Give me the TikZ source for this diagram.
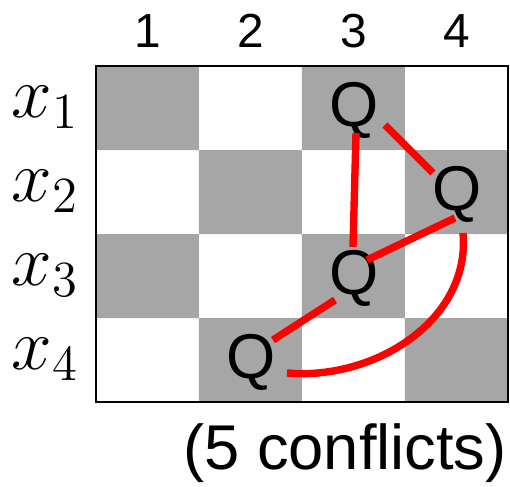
\documentclass[tikz,border=0pt]{standalone}
\usepackage{fontspec}
\newfontfamily\arialfont{Liberation Sans}
\definecolor{boardgray}{RGB}{166,166,166}
\tikzset{queen/.style={circle,inner sep=0pt,minimum size=.6cm,font=\arialfont\fontsize{18}{18}\selectfont},
  colnum/.style={anchor=base,font=\arialfont\fontsize{13.6}{14}\selectfont},
  var/.style={font=\fontsize{19.5}{21}\selectfont},
  conflict/.style={red,line width=2.1pt}}
\begin{document}
\begin{tikzpicture}
\useasboundingbox (0,0) rectangle (5.10,4.87);
% board
\fill[boardgray] (0.96,3.37) rectangle (1.99,4.21) (3.02,3.37) rectangle (4.05,4.21);
\fill[boardgray] (1.99,2.53) rectangle (3.02,3.37) (4.05,2.53) rectangle (5.08,3.37);
\fill[boardgray] (0.96,1.69) rectangle (1.99,2.53) (3.02,1.69) rectangle (4.05,2.53);
\fill[boardgray] (1.99,0.85) rectangle (3.02,1.69) (4.05,0.85) rectangle (5.08,1.69);
\draw[line width=.8pt] (0.96,0.85) rectangle (5.08,4.21);
% columns and variables
\node[colnum] (c1) at (1.475,4.40) {1}; \node[colnum] (c2) at (2.505,4.40) {2};
\node[colnum] (c3) at (3.535,4.40) {3}; \node[colnum] (c4) at (4.565,4.40) {4};
\node[var] (x1) at (0.45,3.80) {$x_1$}; \node[var] (x2) at (0.45,2.96) {$x_2$};
\node[var] (x3) at (0.45,2.12) {$x_3$}; \node[var] (x4) at (0.45,1.28) {$x_4$};
% queens
\node[queen] (q1) at (3.54,3.77) {Q}; \node[queen] (q2) at (4.57,2.93) {Q};
\node[queen] (q3) at (3.54,2.09) {Q}; \node[queen] (q4) at (2.51,1.25) {Q};
% conflicts
\draw[conflict] ([shift={(0.31,-0.15)}]q1.center) -- ([shift={(-0.24,0.21)}]q2.center);
\draw[conflict] ([shift={(0.02,-0.23)}]q1.center) -- ([shift={(-0.01,0.31)}]q3.center);
\draw[conflict] ([shift={(-0.02,-0.24)}]q2.center) -- ([shift={(0.13,0.18)}]q3.center);
\draw[conflict] ([shift={(-0.19,-0.22)}]q3.center) -- ([shift={(0.22,0.22)}]q4.center);
\draw[conflict] ([shift={(0.06,-0.39)}]q2.center) to[out=-85,in=-5] ([shift={(0.36,-0.11)}]q4.center);
\node[anchor=base,font=\arialfont\fontsize{18}{19}\selectfont] (total) at (3.45,0.17) {(5 conflicts)};
\end{tikzpicture}
\end{document}
